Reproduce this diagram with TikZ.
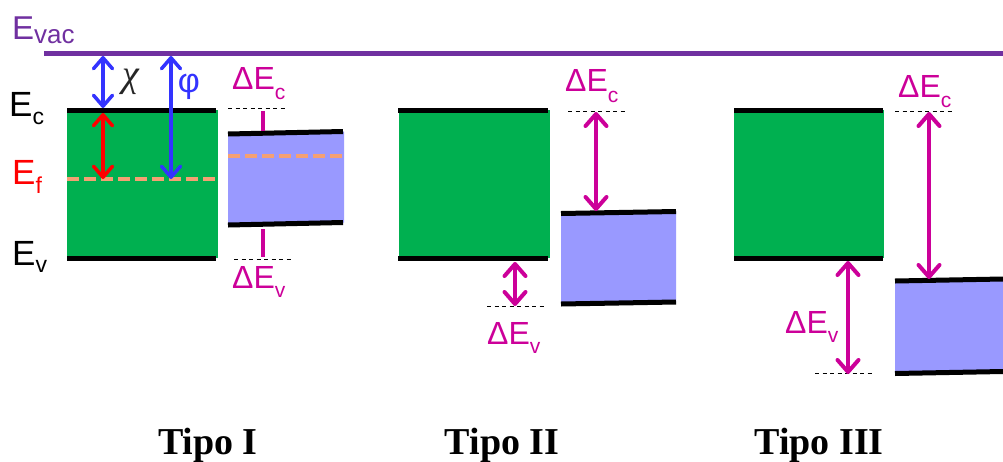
\documentclass[tikz,border=0pt]{standalone}
\usepackage{fontspec}
\setmainfont{Liberation Sans}
\newfontfamily\tiposerif{Liberation Serif}
\usetikzlibrary{arrows.meta}
\definecolor{vacpurple}{RGB}{112,48,160}
\definecolor{bandgreen}{RGB}{0,176,80}
\definecolor{bandblue}{RGB}{153,153,255}
\definecolor{arrmag}{RGB}{204,0,153}
\definecolor{arrblue}{RGB}{51,51,255}
\definecolor{fermicol}{RGB}{245,160,115}
\newcommand{\bandlbl}[5]{{\fontsize{#3}{#3}\selectfont #1}\raisebox{-#5pt}{\fontsize{#4}{#4}\selectfont #2}}
\begin{document}
\begin{tikzpicture}[x=1pt,y=-1pt,
  bandbar/.style={line width=5pt, black},
  thindash/.style={black, line width=1pt, dash pattern=on 4pt off 3.5pt},
  fermidash/.style={fermicol, line width=3.5pt, dash pattern=on 12pt off 5pt},
  magarrow/.style={arrmag, line width=4pt, {Straight Barb[length=12pt,width=21pt,round]}-{Straight Barb[length=12pt,width=21pt,round]}},
  bluearrow/.style={arrblue, line width=3.5pt, {Straight Barb[length=11pt,width=19pt,round]}-{Straight Barb[length=11pt,width=19pt,round]}},
  redarrow/.style={red, line width=3.5pt, {Straight Barb[length=11pt,width=19pt,round]}-{Straight Barb[length=11pt,width=19pt,round]}},
  lbl/.style={anchor=base west, inner sep=0pt},
  tipo/.style={anchor=base, inner sep=0pt, font=\tiposerif\bfseries\fontsize{38}{38}\selectfont}]
\useasboundingbox (0,0) rectangle (1003,461);

% vacuum level
\draw[vacpurple, line width=5pt] (44,53) coordinate (vacL) -- (1003,53) coordinate (vacR);
\node[lbl, text=vacpurple] (evac) at (12,39) {\bandlbl{E}{vac}{33}{26}{4}};

% ---------- Tipo I ----------
\fill[bandgreen] (67,110) rectangle (218,258);
\draw[bandbar] (67,110.5) -- (216,110.5);
\draw[bandbar] (67,258) -- (216,258);
\draw[fermidash] (67,179) -- (218,179);
\fill[bandblue] (228,134) -- (344,131.5) -- (344,222.5) -- (228,225) -- cycle;
\draw[bandbar] (228,134) -- (343,131.5);
\draw[bandbar] (228,225) -- (343,222.5);
\draw[fermidash] (228,156) -- (344,156);

\node[lbl] (ec) at (9,116) {\bandlbl{E}{c}{35}{23}{8}};
\node[lbl, text=red] (ef) at (12,184) {\bandlbl{E}{f}{35}{23}{9}};
\node[lbl] (ev) at (12,265) {\bandlbl{E}{v}{35}{23}{7}};

\coordinate (chiT) at (103,56);
\coordinate (chiB) at (103,108);
\coordinate (efT) at (103,113);
\coordinate (efB) at (103,179);
\coordinate (phiT) at (171,56);
\coordinate (phiB) at (171,179);
\draw[bluearrow] (chiT) -- (chiB);
\draw[redarrow] (efT) -- (efB);
\draw[bluearrow] (phiT) -- (phiB);
\node[inner sep=0pt, text=black!85] (chi) at (131,82) {\tiposerif\itshape\fontsize{38}{38}\selectfont χ};
\node[inner sep=0pt, text=arrblue] (phi) at (189,87) {\fontsize{34}{34}\selectfont φ};

\draw[thindash] (228,108) coordinate (dc1L) -- (287,108) coordinate (dc1R);
\draw[thindash] (234,259) coordinate (dv1L) -- (293,259) coordinate (dv1R);
\coordinate (m1a) at (263,111);
\coordinate (m1b) at (263,131);
\coordinate (m1c) at (263,229);
\coordinate (m1d) at (263,257);
\draw[arrmag, line width=4pt] (m1a) -- (m1b);
\draw[arrmag, line width=4pt] (m1c) -- (m1d);
\node[lbl, text=arrmag] (dec1) at (232,89) {\bandlbl{ΔE}{c}{32}{21}{10}};
\node[lbl, text=arrmag] (dev1) at (232,288) {\bandlbl{ΔE}{v}{32}{21}{9}};

% ---------- Tipo II ----------
\fill[bandgreen] (399,110) rectangle (550,258);
\draw[bandbar] (398,110.5) -- (548,110.5);
\draw[bandbar] (398,258) -- (548,258);
\fill[bandblue] (561,213.5) -- (676,211.5) -- (676,302) -- (561,304) -- cycle;
\draw[bandbar] (561,213.5) -- (676,211.5);
\draw[bandbar] (561,304) -- (676,302);
\draw[thindash] (568,111) coordinate (dc2L) -- (625,111) coordinate (dc2R);
\draw[thindash] (487,306) coordinate (dv2L) -- (545,306) coordinate (dv2R);
\coordinate (a2T) at (596,112);
\coordinate (a2B) at (596,211);
\coordinate (b2T) at (515,262);
\coordinate (b2B) at (515,306);
\draw[magarrow] (a2T) -- (a2B);
\draw[magarrow] (b2T) -- (b2B);
\node[lbl, text=arrmag] (dec2) at (565,91) {\bandlbl{ΔE}{c}{32}{21}{11}};
\node[lbl, text=arrmag] (dev2) at (487,344) {\bandlbl{ΔE}{v}{32}{21}{9}};

% ---------- Tipo III ----------
\fill[bandgreen] (734,110) rectangle (884,258);
\draw[bandbar] (734,110.5) -- (883,110.5);
\draw[bandbar] (734,258) -- (883,258);
\fill[bandblue] (895,281) -- (1003,279) -- (1003,371.5) -- (895,373.5) -- cycle;
\draw[bandbar] (895,281) -- (1003,279);
\draw[bandbar] (895,373.5) -- (1003,371.5);
\draw[thindash] (895,111) coordinate (dc3L) -- (953,111) coordinate (dc3R);
\draw[thindash] (815,373) coordinate (dv3L) -- (872,373) coordinate (dv3R);
\coordinate (a3T) at (929,112);
\coordinate (a3B) at (929,279);
\coordinate (b3T) at (848,261);
\coordinate (b3B) at (848,374);
\draw[magarrow] (a3T) -- (a3B);
\draw[magarrow] (b3T) -- (b3B);
\node[lbl, text=arrmag] (dec3) at (898,97) {\bandlbl{ΔE}{c}{32}{21}{10}};
\node[lbl, text=arrmag] (dev3) at (785,333) {\bandlbl{ΔE}{v}{32}{21}{9}};

% ---------- labels ----------
\node[tipo] (t1) at (208,454) {Tipo I};
\node[tipo] (t2) at (502,454) {Tipo II};
\node[tipo] (t3) at (819,454) {Tipo III};
\end{tikzpicture}
\end{document}
